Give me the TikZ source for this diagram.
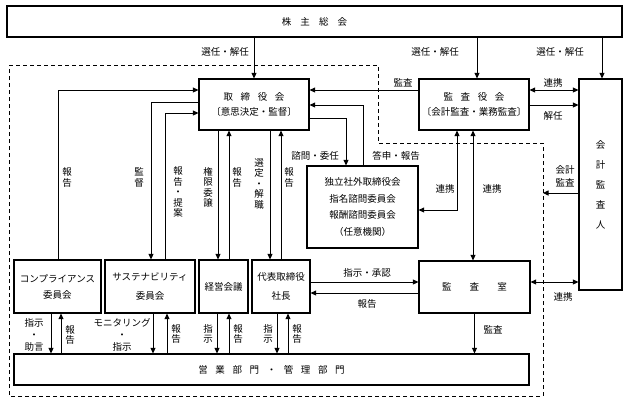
\documentclass[tikz,border=0pt]{standalone}
\usepackage{fontspec}
\usetikzlibrary{arrows.meta}
\newfontfamily\jp{Noto Sans CJK JP}
\newcommand\jpf{\jp\fontsize{9.5}{11}\selectfont}
\newcommand\gp[1]{\hspace{#1em}}
\tikzset{
  box/.style={draw, line width=1.2pt, inner sep=0pt, align=center, font=\jpf},
  lab/.style={inner sep=0pt, align=center, font=\jpf},
  vlab/.style={inner sep=0pt, align=center, font=\jp\fontsize{9.5}{10.5}\selectfont},
  ln/.style={line width=0.9pt},
  arr/.style={line width=0.9pt, -{Triangle[length=5.5pt,width=5pt]}},
  darr/.style={line width=0.9pt, {Triangle[length=5.5pt,width=5pt]}-{Triangle[length=5.5pt,width=5pt]}},
}
\begin{document}
\begin{tikzpicture}[x=1pt,y=-1pt]
\useasboundingbox (0,0) rectangle (628,402);
% dashed region
\draw[line width=1pt, dash pattern=on 4pt off 3pt] (9,65) -- (378,65) -- (378,143) -- (543,143) -- (543,396) -- (9,396) -- cycle;
% boxes
\node[box, minimum width=615pt, minimum height=31pt] (kabu) at (314.5,21.5) {株\gp{0.95}主\gp{0.95}総\gp{0.95}会};
\node[box, minimum width=110pt, minimum height=51pt, font=\jp\fontsize{9.5}{15}\selectfont] (tori) at (254,104.5) {取\gp{0.8}締\gp{0.8}役\gp{0.8}会\\〔意思決定・監督〕};
\node[box, minimum width=110pt, minimum height=51pt, font=\jp\fontsize{9.5}{15}\selectfont] (kansa) at (474,104.5) {監\gp{0.8}査\gp{0.8}役\gp{0.8}会\\〔会計監査・業務監査〕};
\node[box, minimum width=43pt, minimum height=211pt, font=\jp\fontsize{9.5}{20}\selectfont] (kaikei) at (600.5,184.5) {会\\計\\監\\査\\人};
\node[box, minimum width=111pt, minimum height=82pt, font=\jp\fontsize{9.5}{16.5}\selectfont] (dok) at (362.5,207) {独立社外取締役会\\指名諮問委員会\\報酬諮問委員会\\（任意機関）};
\node[box, minimum width=111pt, minimum height=52pt] (kshitsu) at (474.5,287) {監\gp{1.9}査\gp{1.9}室};
\node[box, minimum width=87pt, minimum height=53pt, font=\jp\fontsize{9.5}{16}\selectfont] (comp) at (57.5,286.5) {コンプライアンス\\委員会};
\node[box, minimum width=90pt, minimum height=53pt, font=\jp\fontsize{9.5}{19}\selectfont] (sust) at (150,286.5) {サステナビリティ\\委員会};
\node[box, minimum width=49pt, minimum height=53pt] (keiei) at (223.5,286.5) {経営会議};
\node[box, minimum width=58pt, minimum height=53pt, font=\jp\fontsize{9.5}{19}\selectfont] (daihyo) at (281,286.5) {代表取締役\\社長};
\node[box, minimum width=515pt, minimum height=31pt] (eigyo) at (271.5,369.5) {営\gp{0.8}業\gp{0.8}部\gp{0.8}門\gp{0.8}・\gp{0.8}管\gp{0.8}理\gp{0.8}部\gp{0.8}門};
\coordinate (dashpt) at (543,193);
% shareholders' meeting
\draw[arr] (kabu.south -| 254,0) -- (tori.north -| 254,0);
\draw[arr] (kabu.south -| 477,0) -- (kansa.north -| 477,0);
\draw[arr] (kabu.south -| 602,0) -- (kaikei.north -| 602,0);
\node[lab] (l1) at (225,52) {選任・解任};
\node[lab] (l2) at (435,52) {選任・解任};
\node[lab] (l3) at (560,52) {選任・解任};
% audit board
\draw[arr] (kansa.west |- 0,90) -- (tori.east |- 0,90);
\node[lab] (l4) at (403,83) {監査};
\draw[darr] (kansa.east |- 0,90) -- (kaikei.west |- 0,90);
\node[lab] (l5) at (553,83) {連携};
\draw[arr] (kansa.east |- 0,105) -- (kaikei.west |- 0,105);
\node[lab] (l6) at (553,116) {解任};
\draw[arr] (kaikei.west |- 0,193) -- (dashpt);
\node[lab, font=\jp\fontsize{9.5}{12.5}\selectfont] (l7) at (565,176.5) {会計\\監査};
\draw[darr] (kshitsu.east |- 0,282) -- (kaikei.west |- 0,282);
\node[lab] (l8) at (563,297) {連携};
% independent committees
\draw[arr] (dok.north -| 363,0) |- (tori.east |- 0,105);
\draw[arr] (tori.east |- 0,118) -| (dok.north -| 346,0);
\node[lab] (l9) at (315,156) {諮問・委任};
\node[lab] (l10) at (396,156) {答申・報告};
\draw[darr] (dok.east |- 0,210) -| (kansa.south -| 457,0);
\node[lab] (l11) at (445,189) {連携};
\draw[darr] (kansa.south -| 473,0) -- (kshitsu.north -| 473,0);
\node[lab] (l12) at (492,189) {連携};
% internal audit office
\draw[arr] (kshitsu.south) -- (eigyo.north -| kshitsu.south);
\node[lab] (l13) at (493,330) {監査};
\draw[arr] (daihyo.east |- 0,282) -- (kshitsu.west |- 0,282);
\node[lab] (l14) at (367,273) {指示・承認};
\draw[arr] (kshitsu.west |- 0,293) -- (daihyo.east |- 0,293);
\node[lab] (l15) at (367,304) {報告};
% board to lower committees
\draw[arr] (comp.north -| 58,0) |- (tori.west |- 0,90);
\node[vlab] (l16) at (67,177.5) {報\\告};
\draw[arr] (tori.west |- 0,102) -| (sust.north -| 151,0);
\node[vlab] (l17) at (139,177.5) {監\\督};
\draw[arr] (sust.north -| 165,0) |- (tori.west |- 0,113);
\node[vlab] (l18) at (178,192) {報\\告\\・\\提\\案};
\draw[arr] (tori.south -| 218,0) -- (keiei.north -| 218,0);
\node[vlab] (l19) at (208,187.5) {権\\限\\委\\譲};
\draw[arr] (keiei.north -| 229,0) -- (tori.south -| 229,0);
\node[vlab] (l20) at (237,177.5) {報\\告};
\draw[arr] (tori.south -| 270,0) -- (daihyo.north -| 270,0);
\node[vlab] (l21) at (259,183.5) {選\\定\\・\\解\\職};
\draw[arr] (daihyo.north -| 281,0) -- (tori.south -| 281,0);
\node[vlab] (l22) at (289,177.5) {報\\告};
% lower committees to business departments
\draw[arr] (comp.south -| 51,0) -- (eigyo.north -| 51,0);
\draw[arr] (eigyo.north -| 61,0) -- (comp.south -| 61,0);
\node[lab, font=\jp\fontsize{9.5}{12}\selectfont] (l23) at (34,335) {指示\\・\\助言};
\node[vlab] (l24) at (70,335) {報\\告};
\draw[arr] (sust.south -| 153,0) -- (eigyo.north -| 153,0);
\draw[arr] (eigyo.north -| 167,0) -- (sust.south -| 167,0);
\node[lab, font=\jp\fontsize{9.5}{12}\selectfont] (l25) at (122,335) {モニタリング\\・\\指示};
\node[vlab] (l26) at (176,334) {報\\告};
\draw[arr] (keiei.south -| 217,0) -- (eigyo.north -| 217,0);
\draw[arr] (eigyo.north -| 229,0) -- (keiei.south -| 229,0);
\node[vlab] (l27) at (208,334) {指\\示};
\node[vlab] (l28) at (238,334) {報\\告};
\draw[arr] (daihyo.south -| 277,0) -- (eigyo.north -| 277,0);
\draw[arr] (eigyo.north -| 288,0) -- (daihyo.south -| 288,0);
\node[vlab] (l29) at (268,334) {指\\示};
\node[vlab] (l30) at (297,334) {報\\告};
\end{tikzpicture}
\end{document}
